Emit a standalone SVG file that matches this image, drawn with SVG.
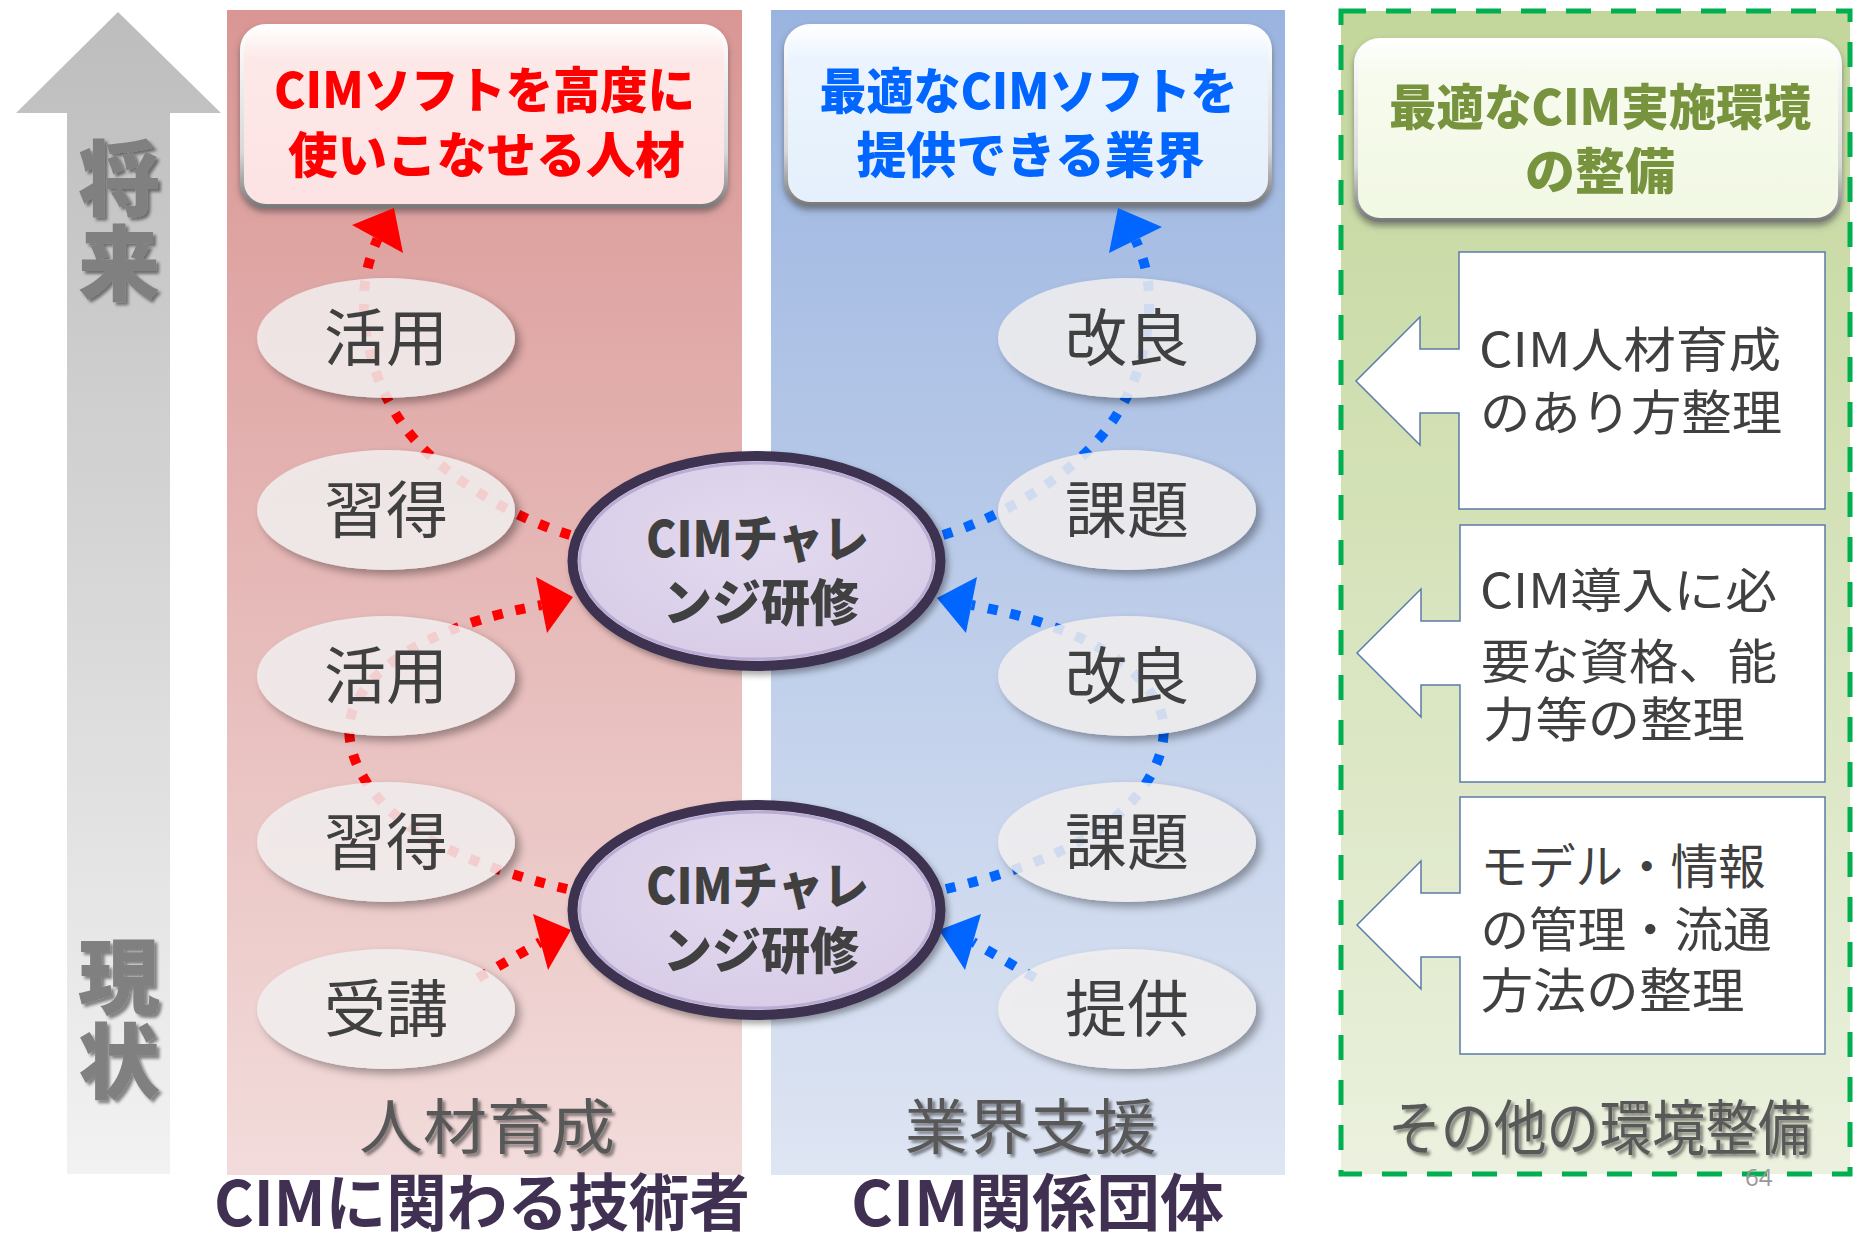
<svg xmlns="http://www.w3.org/2000/svg" width="1853" height="1235" viewBox="0 0 1853 1235">
<defs>
<style>
.t{font-family:'Noto Sans CJK JP','Noto Sans',sans-serif}
.ttl{font-size:49px;font-weight:900}
.nd ellipse{fill:#F1EFEF;fill-opacity:.86}
.nd text{font-size:62px;fill:#404040;text-anchor:middle}
.bx polygon{fill:#FFFFFF;stroke:#5B7BA8;stroke-width:1.5}
.bx text{font-size:48px;fill:#404040}
.dR{fill:none;stroke:#FF0000;stroke-width:10;stroke-dasharray:10 13}
.dB{fill:none;stroke:#0066FF;stroke-width:10;stroke-dasharray:10 13}
.cim text{font-size:50px;font-weight:900;fill:#404040}
.big{font-size:60px;fill:#595959}
.side{font-size:82px;font-weight:900;fill:#808080;writing-mode:vertical-rl;letter-spacing:3px}
.bot{font-size:62px;font-weight:700;fill:#403152}
</style>
<linearGradient id="gArrow" x1="0" y1="0" x2="0" y2="1"><stop offset="0" stop-color="#BDBDBD"/><stop offset="1" stop-color="#F2F2F2"/></linearGradient>
<linearGradient id="gRed" x1="0" y1="0" x2="0" y2="1"><stop offset="0" stop-color="#D99694"/><stop offset="1" stop-color="#F2DCDB"/></linearGradient>
<linearGradient id="gBlue" x1="0" y1="0" x2="0" y2="1"><stop offset="0" stop-color="#9AB4E0"/><stop offset="1" stop-color="#DEE5F3"/></linearGradient>
<linearGradient id="gGreen" x1="0" y1="0" x2="0" y2="1"><stop offset="0" stop-color="#C3D69B"/><stop offset="1" stop-color="#EBF1DE"/></linearGradient>
<linearGradient id="gBoxR" x1="0" y1="0" x2="0" y2="1"><stop offset="0" stop-color="#FFFFFF"/><stop offset=".18" stop-color="#FDE8E8"/><stop offset="1" stop-color="#FDE3E3"/></linearGradient>
<linearGradient id="gBoxB" x1="0" y1="0" x2="0" y2="1"><stop offset="0" stop-color="#FFFFFF"/><stop offset=".18" stop-color="#EBF4FE"/><stop offset="1" stop-color="#E5F0FC"/></linearGradient>
<linearGradient id="gBoxG" x1="0" y1="0" x2="0" y2="1"><stop offset="0" stop-color="#FFFFFF"/><stop offset=".18" stop-color="#F7FBEE"/><stop offset="1" stop-color="#F1F8E3"/></linearGradient>
<linearGradient id="gBevel" x1="0" y1="0" x2="0" y2="1"><stop offset="0" stop-color="#FFFFFF"/><stop offset=".7" stop-color="#D8D8D8"/><stop offset="1" stop-color="#7A7A7A"/></linearGradient>
<radialGradient id="gCim" cx=".5" cy=".4" r=".6"><stop offset="0" stop-color="#E3DAEF"/><stop offset="1" stop-color="#D8CCE7"/></radialGradient>
<filter id="fBox" x="-5%" y="-10%" width="110%" height="125%"><feDropShadow dx="0" dy="4" stdDeviation="3" flood-color="#404040" flood-opacity=".55"/></filter>
<filter id="fNode" x="-10%" y="-15%" width="125%" height="140%">
<feGaussianBlur in="SourceAlpha" stdDeviation="4"/><feOffset dx="5" dy="5" result="o"/>
<feFlood flood-color="#000" flood-opacity=".4"/><feComposite in2="o" operator="in"/>
<feComposite in2="SourceAlpha" operator="out" result="s"/>
<feMerge><feMergeNode in="s"/><feMergeNode in="SourceGraphic"/></feMerge></filter>
<filter id="fTxt" x="-10%" y="-10%" width="130%" height="130%"><feDropShadow dx="3" dy="3" stdDeviation="1.5" flood-color="#000" flood-opacity=".45"/></filter>
<filter id="fCim" x="-10%" y="-10%" width="125%" height="130%"><feDropShadow dx="3" dy="4" stdDeviation="3" flood-color="#000" flood-opacity=".35"/></filter>
</defs>

<g id="backgrounds">
<polygon id="timeline-arrow" points="118,12 221,113 170,113 170,1174 67,1174 67,113 16,113" fill="url(#gArrow)"/>
<rect id="panel-red" x="227" y="10" width="515" height="1165" fill="url(#gRed)"/>
<rect id="panel-blue" x="771" y="10" width="514" height="1165" fill="url(#gBlue)"/>
<rect id="panel-green" x="1341" y="11" width="509" height="1163" fill="url(#gGreen)" stroke="#00B050" stroke-width="5" stroke-dasharray="25 20"/>
</g>

<g id="side-labels" class="t" filter="url(#fTxt)">
<text class="side" x="119" y="137">将来</text>
<text class="side" x="119" y="935">現状</text>
</g>

<g id="goal-red" filter="url(#fBox)">
<rect x="242" y="26" width="484" height="180" rx="24" fill="url(#gBoxR)" stroke="url(#gBevel)" stroke-width="4"/>
<text class="t ttl" fill="#FF0000"><tspan x="274" y="108" textLength="421" lengthAdjust="spacingAndGlyphs">CIMソフトを高度に</tspan><tspan x="288" y="173" textLength="397" lengthAdjust="spacingAndGlyphs">使いこなせる人材</tspan></text>
</g>
<g id="goal-blue" filter="url(#fBox)">
<rect x="786" y="26" width="484" height="178" rx="24" fill="url(#gBoxB)" stroke="url(#gBevel)" stroke-width="4"/>
<text class="t ttl" fill="#0066FF"><tspan x="819.5" y="109" textLength="418" lengthAdjust="spacingAndGlyphs">最適なCIMソフトを</tspan><tspan x="856.5" y="173" textLength="348" lengthAdjust="spacingAndGlyphs">提供できる業界</tspan></text>
</g>
<g id="goal-green" filter="url(#fBox)">
<rect x="1356" y="40" width="484" height="180" rx="24" fill="url(#gBoxG)" stroke="url(#gBevel)" stroke-width="4"/>
<text class="t ttl" fill="#77933C"><tspan x="1389" y="125" textLength="422" lengthAdjust="spacingAndGlyphs">最適なCIM実施環境</tspan><tspan x="1525" y="189" textLength="150" lengthAdjust="spacingAndGlyphs">の整備</tspan></text>
</g>

<g id="connectors">
<path class="dR" d="M570 535 C520 520 455 485 415 440 C380 400 362 345 364 295 C365 270 372 252 377.5 239"/>
<polygon points="352,225 394,208 403,253" fill="#FF0000"/>
<path class="dR" d="M567 889 C520 878 440 855 395 815 C355 780 340 735 355 705 C380 655 450 622 541.5 605"/>
<polygon points="536,577 573,597 547,633" fill="#FF0000"/>
<path class="dR" d="M478 978 L540.5 942"/>
<polygon points="533,914 571,930 548,970" fill="#FF0000"/>
<path class="dB" d="M943 535 C993 520 1058 485 1098 440 C1133 400 1151 345 1149 295 C1148 270 1141 252 1135.5 240"/>
<polygon points="1118,208 1162,227 1109,253" fill="#0066FF"/>
<path class="dB" d="M946 889 C993 878 1073 855 1118 815 C1158 780 1173 735 1158 705 C1133 655 1063 622 971.5 605"/>
<polygon points="977,577 937,598 966,633" fill="#0066FF"/>
<path class="dB" d="M1035 978 L973 942"/>
<polygon points="981,914 939,930 965,970" fill="#0066FF"/>
</g>

<g id="node-katsuyo1" class="nd t"><ellipse cx="386" cy="338" rx="129" ry="60" filter="url(#fNode)"/><text x="386" y="361">活用</text></g>
<g id="node-shutoku1" class="nd t"><ellipse cx="386" cy="510" rx="129" ry="60" filter="url(#fNode)"/><text x="386" y="533">習得</text></g>
<g id="node-katsuyo2" class="nd t"><ellipse cx="386" cy="676" rx="129" ry="60" filter="url(#fNode)"/><text x="386" y="699">活用</text></g>
<g id="node-shutoku2" class="nd t"><ellipse cx="386" cy="842" rx="129" ry="60" filter="url(#fNode)"/><text x="386" y="865">習得</text></g>
<g id="node-juko" class="nd t"><ellipse cx="386" cy="1009" rx="129" ry="60" filter="url(#fNode)"/><text x="386" y="1032">受講</text></g>
<g id="node-kairyo1" class="nd t"><ellipse cx="1127" cy="338" rx="129" ry="60" filter="url(#fNode)"/><text x="1127" y="361">改良</text></g>
<g id="node-kadai1" class="nd t"><ellipse cx="1127" cy="510" rx="129" ry="60" filter="url(#fNode)"/><text x="1127" y="533">課題</text></g>
<g id="node-kairyo2" class="nd t"><ellipse cx="1127" cy="676" rx="129" ry="60" filter="url(#fNode)"/><text x="1127" y="699">改良</text></g>
<g id="node-kadai2" class="nd t"><ellipse cx="1127" cy="842" rx="129" ry="60" filter="url(#fNode)"/><text x="1127" y="865">課題</text></g>
<g id="node-teikyo" class="nd t"><ellipse cx="1127" cy="1009" rx="129" ry="60" filter="url(#fNode)"/><text x="1127" y="1032">提供</text></g>

<g id="node-cim1" class="cim t">
<ellipse cx="756.5" cy="561" rx="184" ry="105" fill="url(#gCim)" stroke="#3E3050" stroke-width="10" filter="url(#fCim)"/>
<ellipse cx="756.5" cy="561" rx="177" ry="98" fill="none" stroke="#B9ACD3" stroke-width="3"/>
<text><tspan x="646" y="557" textLength="223" lengthAdjust="spacingAndGlyphs">CIMチャレ</tspan><tspan x="663" y="621" textLength="196" lengthAdjust="spacingAndGlyphs">ンジ研修</tspan></text>
</g>
<g id="node-cim2" class="cim t">
<ellipse cx="756.5" cy="910" rx="184" ry="105" fill="url(#gCim)" stroke="#3E3050" stroke-width="10" filter="url(#fCim)"/>
<ellipse cx="756.5" cy="910" rx="177" ry="98" fill="none" stroke="#B9ACD3" stroke-width="3"/>
<text><tspan x="646" y="904" textLength="223" lengthAdjust="spacingAndGlyphs">CIMチャレ</tspan><tspan x="663" y="969" textLength="196" lengthAdjust="spacingAndGlyphs">ンジ研修</tspan></text>
</g>

<g id="box-jinzai" class="bx t">
<polygon points="1459,252 1825,252 1825,509 1459,509 1459,413 1420,413 1420,445 1356,381 1420,317 1420,349 1459,349"/>
<text><tspan x="1479" y="367" textLength="302" lengthAdjust="spacingAndGlyphs">CIM人材育成</tspan><tspan x="1480" y="430" textLength="302" lengthAdjust="spacingAndGlyphs">のあり方整理</tspan></text>
</g>
<g id="box-shikaku" class="bx t">
<polygon points="1460,525 1825,525 1825,782 1460,782 1460,685 1421,685 1421,717 1357,653 1421,589 1421,621 1460,621"/>
<text><tspan x="1480" y="608" textLength="297" lengthAdjust="spacingAndGlyphs">CIM導入に必</tspan><tspan x="1481" y="679" textLength="296" lengthAdjust="spacingAndGlyphs">要な資格、能</tspan><tspan x="1483" y="737" textLength="262" lengthAdjust="spacingAndGlyphs">力等の整理</tspan></text>
</g>
<g id="box-model" class="bx t">
<polygon points="1460,797 1825,797 1825,1054 1460,1054 1460,957 1421,957 1421,989 1357,925 1421,861 1421,893 1460,893"/>
<text><tspan x="1480.5" y="884" textLength="285" lengthAdjust="spacingAndGlyphs">モデル・情報</tspan><tspan x="1480.5" y="947" textLength="291" lengthAdjust="spacingAndGlyphs">の管理・流通</tspan><tspan x="1480.5" y="1008" textLength="264" lengthAdjust="spacingAndGlyphs">方法の整理</tspan></text>
</g>

<g id="panel-labels" class="t">
<g filter="url(#fTxt)">
<text class="big" x="359" y="1149" textLength="256" lengthAdjust="spacingAndGlyphs">人材育成</text>
<text class="big" x="904.5" y="1149" textLength="252" lengthAdjust="spacingAndGlyphs">業界支援</text>
<text class="big" x="1388" y="1150" textLength="423" lengthAdjust="spacingAndGlyphs">その他の環境整備</text>
</g>
<text class="bot" x="214" y="1226" textLength="536" lengthAdjust="spacingAndGlyphs">CIMに関わる技術者</text>
<text class="bot" x="851" y="1226" textLength="373" lengthAdjust="spacingAndGlyphs">CIM関係団体</text>
<text x="1745" y="1186" font-family="'Open Sans',sans-serif" font-size="24" fill="#999999">64</text>
</g>
</svg>
